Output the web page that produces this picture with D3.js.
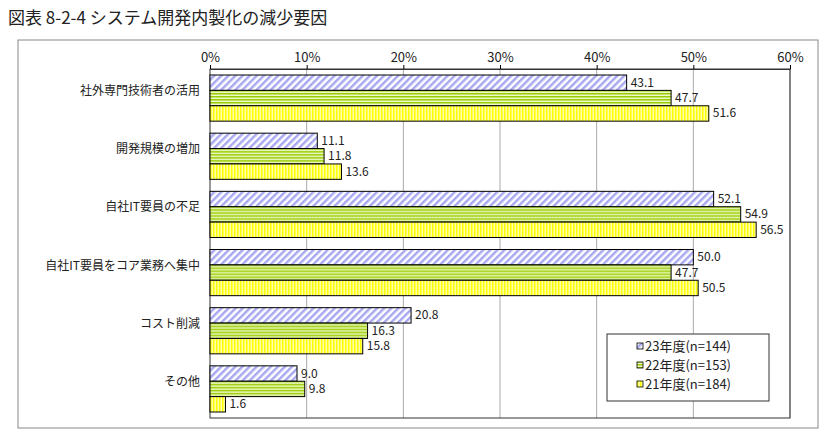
<!DOCTYPE html>
<html><head><meta charset="utf-8">
<script src="https://cdn.jsdelivr.net/npm/d3@7"></script>
<style>body{margin:0;background:#fff;font-family:"Noto Sans CJK JP",sans-serif;}</style>
</head><body><svg id="c" width="837" height="432"></svg>
<script>
const categories = ["社外専門技術者の活用","開発規模の増加","自社IT要員の不足","自社IT要員をコア業務へ集中","コスト削減","その他"];
const seriesNames = ["23年度(n=144)","22年度(n=153)","21年度(n=184)"];
const fy23 = [43.1, 11.1, 52.1, 50.0, 20.8, 9.0];
const fy22 = [47.7, 11.8, 54.9, 47.7, 16.3, 9.8];
const fy21 = [51.6, 13.6, 56.5, 50.5, 15.8, 1.6];
const ticks = [0,10,20,30,40,50,60];

const svg = d3.select("#c");
const defs = svg.append("defs");
// patterns
const p1 = defs.append("pattern").attr("id","p1").attr("width",5).attr("height",5)
  .attr("patternUnits","userSpaceOnUse").attr("patternTransform","rotate(45)");
p1.append("rect").attr("width",5).attr("height",5).attr("fill","#fff");
p1.append("rect").attr("width",2.5).attr("height",5).attr("fill","#a8a8f0");
const p2 = defs.append("pattern").attr("id","p2").attr("width",4).attr("height",3).attr("patternUnits","userSpaceOnUse");
p2.append("rect").attr("width",4).attr("height",3).attr("fill","#eef8c8");
p2.append("rect").attr("width",4).attr("height",1.5).attr("fill","#99cc00");
const p3 = defs.append("pattern").attr("id","p3").attr("width",3).attr("height",4).attr("patternUnits","userSpaceOnUse");
p3.append("rect").attr("width",3).attr("height",4).attr("fill","#ffffaa");
p3.append("rect").attr("width",1.5).attr("height",4).attr("fill","#ffff00");
const fills = ["url(#p1)","url(#p2)","url(#p3)"];

svg.append("text").attr("x",8).attr("y",24).attr("font-size",17).attr("fill","#222")
  .text("図表 8-2-4  システム開発内製化の減少要因");
svg.append("rect").attr("x",18).attr("y",40).attr("width",800).attr("height",388)
  .attr("fill","none").attr("stroke","#888");

const x = d3.scaleLinear().domain([0,60]).range([210,790]);
const y = d3.scaleBand().domain(categories).range([69,418]);
const yIn = d3.scaleBand().domain(d3.range(3)).range([6,y.bandwidth()-6]);

svg.append("g").selectAll("line").data(ticks.slice(1)).join("line")
  .attr("x1",d=>x(d)).attr("x2",d=>x(d)).attr("y1",69).attr("y2",418)
  .attr("stroke","#aaa");
svg.append("rect").attr("x",x(0)).attr("y",69).attr("width",x(60)-x(0)).attr("height",349)
  .attr("fill","none").attr("stroke","#333");

const ax = svg.append("g").attr("transform","translate(0,69)")
  .call(d3.axisTop(x).tickValues(ticks).tickFormat(d=>d+"%").tickSize(4));
ax.select(".domain").attr("stroke","#333");
ax.selectAll("text").attr("font-size",13).attr("font-family","Noto Sans CJK JP").attr("fill","#222");

const data = [fy23, fy22, fy21];
categories.forEach((c,ci)=>{
  const g = svg.append("g").attr("transform",`translate(0,${y(c)})`);
  data.forEach((s,si)=>{
    g.append("rect").attr("x",x(0)).attr("y",yIn(si)).attr("width",x(s[ci])-x(0))
      .attr("height",yIn.bandwidth()).attr("fill",fills[si]).attr("stroke","#000").attr("stroke-width",1);
    g.append("text").attr("x",x(s[ci])+4).attr("y",yIn(si)+yIn.bandwidth()/2+4)
      .attr("font-size",12).attr("fill","#222").text(s[ci].toFixed(1));
  });
  svg.append("text").attr("x",200).attr("y",y(c)+y.bandwidth()/2-3).attr("text-anchor","end")
    .attr("font-size",12).attr("fill","#222").text(c);
});

const lg = svg.append("g").attr("transform","translate(607,334)");
lg.append("rect").attr("width",162).attr("height",67).attr("fill","#fff").attr("stroke","#333");
seriesNames.forEach((n,i)=>{
  lg.append("rect").attr("x",30).attr("y",9+i*19).attr("width",6).attr("height",6)
    .attr("fill",fills[i]).attr("stroke","#000").attr("stroke-width",0.8);
  lg.append("text").attr("x",38).attr("y",17+i*19).attr("font-size",13).attr("fill","#222").text(n);
});
</script></body></html>
